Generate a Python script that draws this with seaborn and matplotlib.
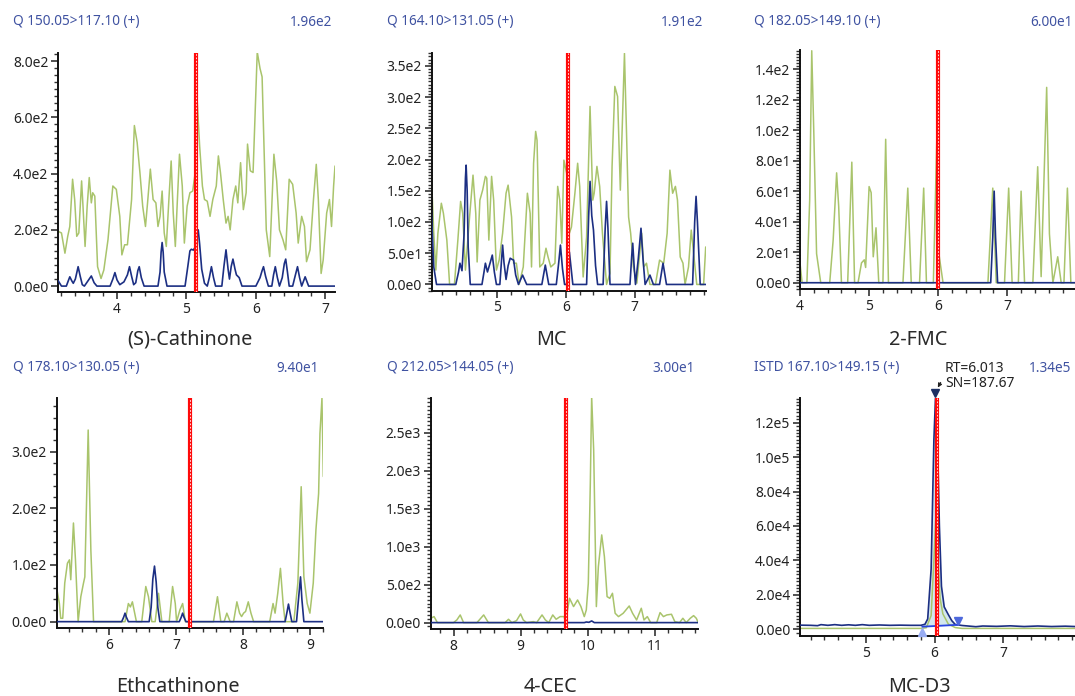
import numpy as np
import pandas as pd
import matplotlib
matplotlib.use("Agg")
import matplotlib.pyplot as plt
import seaborn as sns
from matplotlib.ticker import MultipleLocator, FuncFormatter

sns.set_theme(style="ticks")
plt.rcParams['font.family'] = ['Noto Sans', 'DejaVu Sans']

# ---------------- data (x = retention time in min, y = intensity) ----------------
titles = ["Q 150.05>117.10 (+)", "Q 164.10>131.05 (+)", "Q 182.05>149.10 (+)",
          "Q 178.10>130.05 (+)", "Q 212.05>144.05 (+)", "ISTD 167.10>149.15 (+)"]
max_values = ["1.96e2", "1.91e2", "6.00e1", "9.40e1", "3.00e1", "1.34e5"]
compounds = ["(S)-Cathinone", "MC", "2-FMC", "Ethcathinone", "4-CEC", "MC-D3"]
expected_rt = [5.134, 6.03, 6.0, 7.21, 9.67, 6.03]
x_ticks = [[4, 5, 6, 7], [5, 6, 7], [4, 5, 6, 7], [6, 7, 8, 9], [8, 9, 10, 11], [5, 6, 7]]

p1_green = [(3.15,195),(3.2,189),(3.25,117),(3.29,177),(3.32,212),(3.36,380),(3.39,308),(3.42,177),
            (3.45,189),(3.49,374),(3.51,284),(3.54,141),(3.57,284),(3.6,386),(3.63,296),(3.65,332),
            (3.68,320),(3.72,69),(3.77,27),(3.81,57),(3.87,165),(3.94,356),(3.99,344),(4.04,248),
            (4.07,111),(4.11,147),(4.15,147),(4.21,308),(4.25,571),(4.29,511),(4.33,404),(4.37,284),
            (4.41,212),(4.44,296),(4.48,416),(4.52,308),(4.56,296),(4.59,212),(4.62,248),(4.65,338),
            (4.68,189),(4.71,141),(4.75,320),(4.78,445),(4.81,260),(4.84,141),(4.87,308),(4.9,469),
            (4.94,356),(4.97,153),(5.01,284),(5.05,332),(5.09,338),(5.12,392),(5.15,684),(5.19,499),
            (5.23,356),(5.26,308),(5.3,302),(5.34,248),(5.38,308),(5.43,356),(5.46,463),(5.49,404),
            (5.53,308),(5.57,224),(5.6,248),(5.63,200),(5.67,308),(5.71,356),(5.74,296),(5.78,439),
            (5.82,272),(5.86,332),(5.88,505),(5.92,410),(5.96,404),(6.02,833),(6.06,774),(6.09,744),
            (6.15,200),(6.2,105),(6.26,469),(6.3,374),(6.34,200),(6.39,165),(6.43,129),(6.48,380),
            (6.53,362),(6.58,260),(6.61,153),(6.66,248),(6.7,212),(6.73,87),(6.78,129),(6.83,308),
            (6.87,433),(6.9,308),(6.94,45),(6.97,93),(7.02,260),(7.06,308),(7.09,212),(7.12,356),(7.14,427)]
p1_blue = [(3.15,20),(3.2,0),(3.27,0),(3.3,20),(3.32,33),(3.35,18),(3.37,10),(3.4,25),(3.44,69),
           (3.47,35),(3.5,5),(3.53,0),(3.58,18),(3.63,36),(3.67,12),(3.71,0),(3.9,0),(3.94,25),
           (3.97,48),(4.0,22),(4.04,5),(4.1,15),(4.15,40),(4.18,69),(4.21,35),(4.24,5),(4.27,12),
           (4.3,55),(4.32,69),(4.35,30),(4.39,0),(4.59,0),(4.62,50),(4.635,120),(4.65,155),
           (4.665,120),(4.68,50),(4.72,0),(4.98,0),(5.02,70),(5.05,125),(5.07,131),(5.1,128),
           (5.13,140),(5.155,185),(5.17,200),(5.19,150),(5.22,60),(5.26,10),(5.3,0),(5.33,30),
           (5.36,69),(5.39,30),(5.42,0),(5.51,0),(5.54,70),(5.57,129),(5.6,60),(5.62,25),(5.645,70),
           (5.67,96),(5.7,60),(5.72,40),(5.76,30),(5.8,0),(6.0,0),(6.06,30),(6.09,55),(6.11,69),
           (6.14,35),(6.18,0),(6.23,0),(6.255,40),(6.28,69),(6.31,30),(6.34,0),(6.38,30),(6.41,80),
           (6.43,96),(6.455,50),(6.48,0),(6.53,0),(6.57,40),(6.6,69),(6.63,30),(6.66,0),(6.71,33),
           (6.76,0),(7.14,0)]

p2_green = [(4.04,189),(4.08,82),(4.11,23),(4.14,82),(4.19,130),(4.22,114),(4.27,71),(4.31,0),
            (4.38,0),(4.43,71),(4.47,133),(4.5,114),(4.54,23),(4.6,108),(4.65,175),(4.69,114),
            (4.71,36),(4.75,135),(4.79,151),(4.83,173),(4.85,170),(4.88,71),(4.92,173),(4.95,135),
            (4.99,23),(5.03,39),(5.08,82),(5.13,146),(5.16,159),(5.21,108),(5.24,34),(5.28,34),
            (5.32,0),(5.38,28),(5.44,146),(5.48,114),(5.5,28),(5.53,194),(5.56,245),(5.58,231),
            (5.62,28),(5.67,34),(5.71,58),(5.74,44),(5.78,28),(5.84,34),(5.88,157),(5.91,135),
            (5.94,66),(5.97,199),(6.01,178),(6.05,82),(6.08,92),(6.13,146),(6.17,194),(6.2,157),
            (6.25,12),(6.3,76),(6.35,285),(6.39,135),(6.41,146),(6.45,189),(6.49,157),(6.53,82),
            (6.59,0),(6.64,18),(6.67,189),(6.71,317),(6.75,301),(6.79,151),(6.85,370),(6.88,242),
            (6.91,108),(6.94,82),(6.98,28),(7.03,2),(7.1,82),(7.13,28),(7.17,34),(7.22,0),(7.3,0),
            (7.36,39),(7.42,34),(7.47,82),(7.51,183),(7.55,146),(7.59,157),(7.62,135),(7.66,44),
            (7.7,34),(7.73,0),(7.78,28),(7.82,87),(7.85,55),(7.9,0),(8.0,0),(8.03,60)]
p2_blue = [(4.04,127),(4.06,80),(4.08,28),(4.12,0),(4.4,0),(4.44,20),(4.46,34),(4.49,22),(4.52,80),
           (4.54,170),(4.55,191),(4.565,150),(4.58,60),(4.61,0),(4.78,0),(4.81,20),(4.83,34),
           (4.86,20),(4.9,35),(4.93,47),(4.96,20),(4.99,0),(5.04,0),(5.065,40),(5.08,63),(5.1,35),
           (5.13,8),(5.16,30),(5.19,42),(5.22,40),(5.24,39),(5.27,15),(5.31,0),(5.37,15),(5.43,0),
           (5.65,0),(5.7,31),(5.75,0),(5.86,0),(5.895,35),(5.92,63),(5.95,25),(5.98,0),(6.01,0),
           (6.05,52),(6.1,0),(6.3,0),(6.33,110),(6.35,165),(6.375,110),(6.4,87),(6.43,30),(6.46,0),
           (6.54,0),(6.57,90),(6.59,133),(6.61,90),(6.64,0),(6.93,0),(6.955,45),(6.97,66),(6.99,30),
           (7.01,0),(7.05,40),(7.09,90),(7.12,40),(7.15,0),(7.22,15),(7.27,0),(7.36,0),(7.41,34),
           (7.46,0),(7.84,0),(7.87,100),(7.89,141),(7.91,100),(7.95,0),(8.03,0)]

p3_green = [(4.0,13),(4.03,0),(4.1,0),(4.14,54),(4.17,152),(4.2,98),(4.24,19),(4.3,0),(4.43,0),
            (4.48,28),(4.53,72),(4.56,50),(4.6,0),(4.69,0),(4.75,79),(4.79,0),(4.84,0),(4.89,13),
            (4.93,15),(4.95,10),(5.0,63),(5.03,59),(5.06,17),(5.1,36),(5.14,0),(5.2,0),(5.24,94),
            (5.28,0),(5.49,0),(5.56,62),(5.61,0),(5.73,0),(5.79,62),(5.83,0),(5.93,0),(5.98,94),
            (6.01,19),(6.07,0),(6.72,0),(6.79,62),(6.84,0),(6.96,0),(7.02,62),(7.07,0),(7.16,0),
            (7.2,60),(7.25,0),(7.37,0),(7.44,76),(7.49,4),(7.57,128),(7.61,32),(7.66,0),(7.73,17),
            (7.78,0),(7.82,0),(7.87,62),(7.92,0),(7.98,0)]
p3_blue = [(4.0,0),(6.76,0),(6.79,30),(6.81,60),(6.83,30),(6.86,0),(7.98,0)]

p4_green = [(5.22,59),(5.26,32),(5.28,6),(5.31,6),(5.34,68),(5.38,103),(5.41,109),(5.43,74),
            (5.47,174),(5.5,109),(5.54,0),(5.58,44),(5.62,68),(5.64,79),(5.69,338),(5.73,126),
            (5.77,0),(6.24,0),(6.29,32),(6.32,26),(6.35,35),(6.41,0),(6.49,0),(6.55,62),(6.59,44),
            (6.64,0),(6.69,0),(6.74,50),(6.79,0),(6.9,0),(6.95,62),(6.99,32),(7.01,0),(7.06,21),
            (7.1,32),(7.14,0),(7.56,0),(7.62,44),(7.67,0),(7.72,0),(7.76,15),(7.81,0),(7.86,0),
            (7.91,35),(7.95,15),(7.98,9),(8.01,15),(8.04,18),(8.08,35),(8.12,15),(8.16,0),(8.4,0),
            (8.45,32),(8.48,15),(8.52,50),(8.56,94),(8.6,32),(8.63,0),(8.76,0),(8.82,68),(8.87,238),
            (8.91,79),(8.96,32),(9.0,15),(9.05,68),(9.09,162),(9.13,226),(9.15,332),(9.18,394),(9.2,256)]
p4_blue = [(5.22,0),(6.19,0),(6.22,8),(6.24,15),(6.26,8),(6.29,0),(6.6,0),(6.63,25),(6.655,75),
           (6.68,98),(6.705,70),(6.73,25),(6.76,0),(7.05,0),(7.08,8),(7.1,15),(7.12,8),(7.15,0),
           (8.63,0),(8.66,18),(8.68,31),(8.7,18),(8.73,0),(8.8,0),(8.83,40),(8.86,79),(8.88,40),
           (8.91,0),(9.2,0)]

p5_green = [(7.66,57),(7.71,79),(7.76,0),(8.0,0),(8.05,35),(8.1,101),(8.15,0),(8.35,0),(8.45,101),
            (8.52,0),(8.77,0),(8.82,44),(8.87,0),(8.94,26),(9.0,114),(9.04,35),(9.09,0),(9.19,13),
            (9.24,0),(9.32,101),(9.37,35),(9.42,0),(9.48,101),(9.53,44),(9.59,79),(9.65,79),
            (9.67,0),(9.73,320),(9.79,211),(9.85,298),(9.9,211),(9.95,79),(9.98,167),(10.01,518),
            (10.04,1833),(10.06,2974),(10.09,2272),(10.13,211),(10.16,737),(10.21,1154),(10.25,868),
            (10.29,342),(10.33,320),(10.37,386),(10.41,123),(10.46,79),(10.53,123),(10.62,219),
            (10.67,123),(10.73,35),(10.8,189),(10.84,35),(10.89,79),(10.94,0),(11.03,0),(11.08,132),
            (11.13,79),(11.18,101),(11.25,110),(11.3,13),(11.37,0),(11.42,57),(11.47,0),(11.53,57),
            (11.58,92),(11.62,57),(11.65,0)]
p5_blue = [(7.66,0),(9.95,0),(9.98,8),(10.02,4),(10.06,22),(10.1,0),(11.65,0)]

p6_green = [(4.045,500),(5.8,500),(5.88,900),(5.95,8000),(5.99,40000),(6.02,67000),(6.05,40000),
            (6.08,18000),(6.12,9000),(6.2,3000),(6.3,1000),(6.4,500),(8.04,500)]
p6_blue = [(4.045,2400),(4.2,2300),(4.3,2100),(4.35,2700),(4.45,2300),(4.55,2700),(4.65,2300),
           (4.75,2600),(4.85,2300),(4.95,2700),(5.05,2300),(5.2,2500),(5.35,2300),(5.5,2400),
           (5.65,2300),(5.8,2300),(5.86,2900),(5.9,6000),(5.95,35000),(5.99,110000),(6.013,134000),
           (6.04,115000),(6.07,60000),(6.1,25000),(6.14,13000),(6.2,8500),(6.25,5000),(6.3,2800),
           (6.4,2200),(6.6,1500),(6.7,1900),(6.9,1700),(7.1,2000),(7.3,1600),(7.5,1900),(7.7,1600),
           (7.9,1800),(8.04,1600)]
p6_integration = [(5.82,1500),(6.34,2600)]
p6_peak_top = (6.013, 137500)

greens = [p1_green, p2_green, p3_green, p4_green, p5_green, p6_green]
blues = [p1_blue, p2_blue, p3_blue, p4_blue, p5_blue, p6_blue]

# ---------------- layout / style ----------------
W, H = 1075, 696
GREEN = "#a9c46c"
BLUE = "#1c2f83"
HEAD = "#3f52a1"

rects = [(58, 53, 335, 292), (431.7, 52.7, 705.7, 290.7), (800, 50, 1075, 289.3),
         (56.7, 397.7, 323.3, 628.3), (430.7, 397.7, 698.3, 629.3), (800, 398.3, 1075, 636)]
xlims = [(3.15, 7.14), (4.05, 8.03), (4.0, 7.98), (5.22, 9.2), (7.66, 11.65), (4.045, 8.04)]
ylims = [(-21, 829), (-10, 371), (-4.3, 152.5), (-11.7, 395), (-88, 2960), (-3900, 134150)]
ymaj = [200, 50, 20, 100, 500, 20000]
ymin = [25, 5, 2, 20, 50, 2000]
title_x = [12.7, 386.7, 754.3, 12.7, 386.7, 754.3]
value_x = [332, 703.3, 1072.7, 319, 694.3, 1071.7]
head_y = [22, 22, 22, 368, 368, 368]
label_x = [190, 551, 918, 178, 550, 919]
label_y = [340, 340, 340, 687, 687, 687]


def sci(v, pos):
    if abs(v) < 1e-9:
        return "0.0e0"
    e = int(np.floor(np.log10(abs(v)) + 1e-9))
    return f"{v / 10 ** e:.1f}e{e}"


fig = plt.figure(figsize=(W / 100, H / 100), dpi=100)
fig.patch.set_facecolor("white")

for i in range(6):
    l, t, r, b = rects[i]
    ax = fig.add_axes([l / W, 1 - b / H, (r - l) / W, (b - t) / H])
    ax.set_facecolor("white")
    g = pd.DataFrame(greens[i], columns=["rt", "intensity"])
    bl = pd.DataFrame(blues[i], columns=["rt", "intensity"])
    if i == 5:
        seg = bl[(bl.rt >= 5.82) & (bl.rt <= 6.34)]
        px = [p6_integration[0][0]] + list(seg.rt) + [p6_integration[1][0]]
        py = [p6_integration[0][1]] + list(seg.intensity) + [p6_integration[1][1]]
        ax.fill(px, py, color="#d3e7ef", zorder=1, lw=0)
    sns.lineplot(data=g, x="rt", y="intensity", ax=ax, color=GREEN, lw=1.1,
                 estimator=None, sort=False, zorder=2)
    sns.lineplot(data=bl, x="rt", y="intensity", ax=ax, color=BLUE, lw=1.2,
                 estimator=None, sort=False, zorder=3)
    ax.axvline(expected_rt[i], color="#ff0a0a", lw=3, zorder=5)
    ax.axvline(expected_rt[i], color="white", lw=0.6, ls=(0, (2, 2)), zorder=6)
    if i == 5:
        ax.plot([p6_integration[0][0], p6_integration[1][0]],
                [p6_integration[0][1], p6_integration[1][1]], color="#2a45e0", lw=1.3, zorder=4)
        ax.plot([p6_integration[0][0]], [-1800], marker="^", color="#98acf2", ms=6,
                clip_on=False, zorder=7, ls="none")
        ax.plot([p6_integration[1][0]], [4800], marker="v", color="#4d68dc", ms=6,
                clip_on=False, zorder=7, ls="none")
        ax.plot([p6_peak_top[0]], [p6_peak_top[1]], marker="v", color="#1c2f63", ms=6,
                clip_on=False, zorder=7, ls="none")
    ax.set_xlim(*xlims[i])
    ax.set_ylim(*ylims[i])
    ax.set_xticks(x_ticks[i])
    ax.xaxis.set_minor_locator(MultipleLocator(0.2))
    ax.yaxis.set_major_locator(MultipleLocator(ymaj[i]))
    ax.yaxis.set_minor_locator(MultipleLocator(ymin[i]))
    ax.yaxis.set_major_formatter(FuncFormatter(sci))
    ax.set_xlabel("")
    ax.set_ylabel("")
    for s in ["top", "right"]:
        ax.spines[s].set_visible(False)
    for s in ["left", "bottom"]:
        ax.spines[s].set_color("#111111")
        ax.spines[s].set_linewidth(1.4)
    ax.tick_params(which="major", direction="out", length=5, width=1.1, color="#222222",
                   labelsize=10, labelcolor="#222222", pad=2, left=True, bottom=True)
    ax.tick_params(which="minor", direction="out", length=3, width=1.0, color="#333333",
                   left=True, bottom=True)

    fig.text(title_x[i] / W, 1 - head_y[i] / H, titles[i], color=HEAD, fontsize=9.8,
             ha="left", va="center")
    fig.text(value_x[i] / W, 1 - head_y[i] / H, max_values[i], color=HEAD, fontsize=9.8,
             ha="right", va="center")
    fig.text(label_x[i] / W, 1 - label_y[i] / H, compounds[i], color="#2a2a2a", fontsize=14.3,
             ha="center", va="center")

# MC-D3 peak annotation
fig.text(945 / W, 1 - 376 / H, "RT=6.013\nSN=187.67", color="#222222", fontsize=10,
         ha="left", va="center", linespacing=1.0)
fig.patches.append(matplotlib.patches.FancyArrowPatch(
    (942 / W, 1 - 380 / H), (936.5 / W, 1 - 390 / H), transform=fig.transFigure,
    arrowstyle="-|>", mutation_scale=6, color="#222222", lw=0.8))

fig.savefig("out.png", dpi=100, facecolor="white")
